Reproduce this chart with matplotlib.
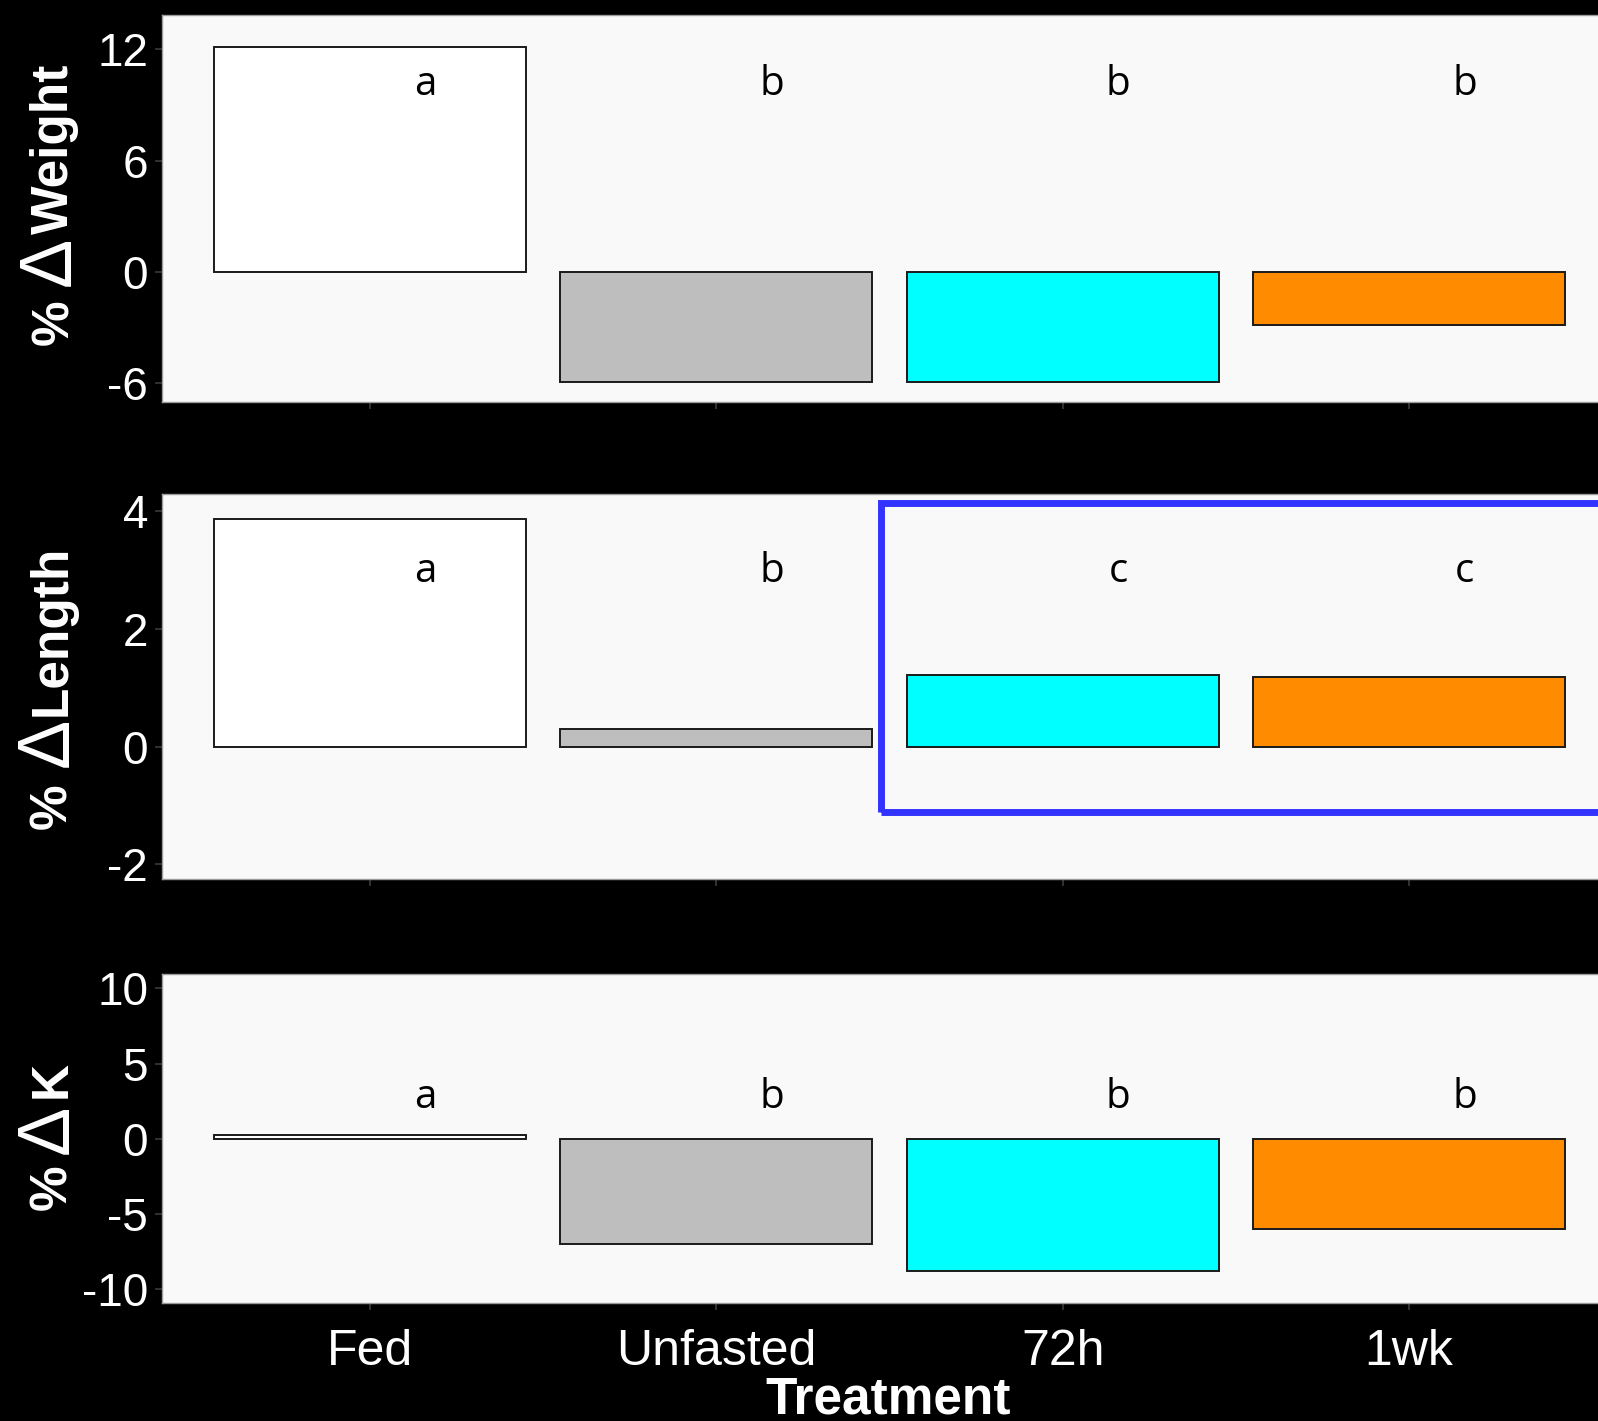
import matplotlib
matplotlib.use("Agg")
import matplotlib.pyplot as plt
import matplotlib.patches as mpatches
import numpy as np

plt.rcParams["font.family"] = ["Liberation Sans", "DejaVu Sans"]
plt.rcParams["axes.unicode_minus"] = False

# group means (% change from start) and post-hoc letters
treatments = ["Fed", "Unfasted", "72h", "1wk"]
bar_colors = ["#FFFFFF", "#BEBEBE", "#00FFFF", "#FF8C00"]

weight_change = [12.1, -5.9, -5.9, -2.85]
length_change = [3.86, 0.29, 1.21, 1.18]
k_change = [0.25, -7.0, -8.77, -5.99]

weight_letters = ["a", "b", "b", "b"]
length_letters = ["a", "b", "c", "c"]
k_letters = ["a", "b", "b", "b"]

W, H = 1598, 1421
fig = plt.figure(figsize=(W / 100, H / 100), dpi=100, facecolor="black")

panels = [
    # values, letters, label, y-limits, ticks, letter baseline, (top, bottom) px
    dict(vals=weight_change, letters=weight_letters, name="Weight",
         ylim=(-7.0, 13.85), ticks=[-6, 0, 6, 12], ly=9.55, box=(15, 402),
         lab=dict(bx=68, pct=322, delta=261, word=149)),
    dict(vals=length_change, letters=length_letters, name="Length",
         ylim=(-2.25, 4.29), ticks=[-2, 0, 2, 4], ly=2.8, box=(494, 879),
         lab=dict(bx=66, pct=806, delta=742, word=630)),
    dict(vals=k_change, letters=k_letters, name="K",
         ylim=(-10.93, 10.96), ticks=[-10, -5, 0, 5, 10], ly=2.04, box=(974, 1303),
         lab=dict(bx=66, pct=1187, delta=1129, word=1080)),
]

x = np.arange(1, len(treatments) + 1)
axes = []
for i, p in enumerate(panels):
    top, bot = p["box"]
    ax = fig.add_axes([162 / W, 1 - bot / H, 1455 / W, (bot - top) / H])
    ax.set_facecolor("#F9F9F9")
    ax.bar(x, p["vals"], width=0.9, color=bar_colors, edgecolor="#1A1A1A",
           linewidth=1.4, zorder=2)
    ax.set_xlim(0.4, 4.6)
    ax.set_ylim(*p["ylim"])
    ax.set_yticks(p["ticks"])
    ax.set_xticks(x)
    if i == len(panels) - 1:
        ax.set_xticklabels(treatments, fontsize=36, color="white")
    else:
        ax.set_xticklabels([])
    ax.tick_params(axis="y", labelsize=33, labelcolor="white", color="#3A3A3A",
                   length=5, width=1.2, pad=5)
    ax.tick_params(axis="x", labelcolor="white", color="#3A3A3A",
                   length=5, width=1.2, pad=14)
    for s in ax.spines.values():
        s.set_color("#9A9A9A")
        s.set_linewidth(1)

    for xi, l in zip(x, p["letters"]):
        ax.text(xi + 0.16, p["ly"], l, ha="center", va="baseline",
                fontsize=29, family="Open Sans", color="black", zorder=4)

    # "% \u0394Name" y label, built from pieces so the delta can be larger
    lab = p["lab"]
    kw = dict(rotation=90, rotation_mode="anchor", ha="center", va="baseline",
              color="white")
    fig.text(lab["bx"] / W, 1 - lab["pct"] / H, "%", fontsize=37,
             fontweight="bold", **kw)
    fig.text((lab["bx"] + 2) / W, 1 - lab["delta"] / H, "\u0394", fontsize=53, **kw)
    fig.text(lab["bx"] / W, 1 - lab["word"] / H, p["name"], fontsize=37,
             fontweight="bold", **kw)
    axes.append(ax)

# highlight the fasted groups in the length panel
axes[1].add_patch(mpatches.Rectangle((2.475, -1.12), 2.6, 5.26, fill=False,
                                     edgecolor="#3333FF", linewidth=5,
                                     clip_on=False, zorder=5))

fig.text(888 / W, 1 - 1413 / H, "Treatment", ha="center", va="baseline",
         fontsize=37, fontweight="bold", color="white")

fig.savefig("out.png", dpi=100, facecolor="black")
